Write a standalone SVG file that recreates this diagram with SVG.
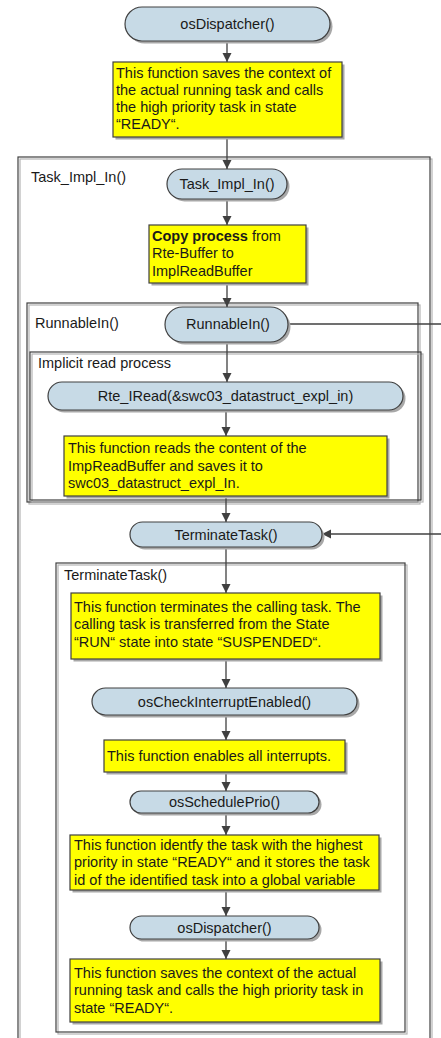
<svg xmlns="http://www.w3.org/2000/svg" width="441" height="1038" viewBox="0 0 441 1038">
  <style>
    text { font-family: "Liberation Sans", Arial, sans-serif; font-size: 14.5px; fill: #1a1a1a; }
    .pill { fill: #c7dae6; stroke: #404040; stroke-width: 1.2; }
    .note { fill: #ffff00; stroke: #404040; stroke-width: 1.2; }
    .shadow { fill: #a8a8a8; stroke: none; }
    .frame { fill: none; stroke: #404040; stroke-width: 1.2; }
    .frame-shadow { fill: none; stroke: #b4b4b4; stroke-width: 1.2; }
    .edge { fill: none; stroke: #404040; stroke-width: 1.3; }
    .c { text-anchor: middle; }
  </style>
  <defs>
    <marker id="arrow" markerWidth="10" markerHeight="10" refX="9" refY="5" orient="auto" markerUnits="userSpaceOnUse">
      <path d="M0,0.5 L9,5 L0,9.5 Z" fill="#404040"/>
    </marker>
  </defs>

  <rect width="441" height="1038" fill="#ffffff"/>

  <!-- containers -->
  <g id="frame-task-impl-in">
    <rect class="frame-shadow" x="20" y="159" width="412" height="900"/>
    <rect class="frame" x="18" y="157" width="412" height="900"/>
    <text x="31" y="182">Task_Impl_In()</text>
  </g>
  <g id="frame-runnable-in">
    <rect class="frame-shadow" x="29" y="305" width="391" height="199"/>
    <rect class="frame" x="27" y="303" width="391" height="199"/>
    <text x="35" y="328">RunnableIn()</text>
  </g>
  <g id="frame-implicit-read">
    <rect class="frame-shadow" x="32" y="354" width="391" height="148"/>
    <rect class="frame" x="30" y="352" width="391" height="148"/>
    <text x="38" y="368">Implicit read process</text>
  </g>
  <g id="frame-terminate-task">
    <rect class="frame-shadow" x="58" y="565" width="349" height="469"/>
    <rect class="frame" x="56" y="563" width="349" height="469"/>
    <text x="64" y="580">TerminateTask()</text>
  </g>

  <!-- connectors -->
  <g id="connectors">
    <line class="edge" x1="227" y1="41" x2="227" y2="62" marker-end="url(#arrow)"/>
    <line class="edge" x1="227" y1="137" x2="227" y2="169" marker-end="url(#arrow)"/>
    <line class="edge" x1="227" y1="199" x2="227" y2="225" marker-end="url(#arrow)"/>
    <line class="edge" x1="227" y1="283" x2="227" y2="307" marker-end="url(#arrow)"/>
    <line class="edge" x1="227" y1="342" x2="227" y2="382" marker-end="url(#arrow)"/>
    <line class="edge" x1="226" y1="410" x2="226" y2="436" marker-end="url(#arrow)"/>
    <line class="edge" x1="226" y1="496" x2="226" y2="522" marker-end="url(#arrow)"/>
    <line class="edge" x1="226" y1="547" x2="226" y2="593" marker-end="url(#arrow)"/>
    <line class="edge" x1="226" y1="659" x2="226" y2="688" marker-end="url(#arrow)"/>
    <line class="edge" x1="226" y1="715" x2="226" y2="740" marker-end="url(#arrow)"/>
    <line class="edge" x1="226" y1="772" x2="226" y2="791" marker-end="url(#arrow)"/>
    <line class="edge" x1="226" y1="813" x2="226" y2="835" marker-end="url(#arrow)"/>
    <line class="edge" x1="226" y1="890" x2="226" y2="916" marker-end="url(#arrow)"/>
    <line class="edge" x1="226" y1="939" x2="226" y2="959" marker-end="url(#arrow)"/>
    <line class="edge" x1="288" y1="324" x2="441" y2="324"/>
    <line class="edge" x1="441" y1="534" x2="322" y2="534" marker-end="url(#arrow)"/>
  </g>

  <!-- nodes -->
  <g id="os-dispatcher-top">
    <rect class="shadow" x="127.5" y="9.5" width="205" height="34" rx="17"/>
    <rect class="pill" x="125" y="7" width="205" height="34" rx="17"/>
    <text class="c" x="227.5" y="29">osDispatcher()</text>
  </g>
  <g id="note-dispatcher-top">
    <rect class="shadow" x="115.5" y="64.5" width="229" height="75"/>
    <rect class="note" x="113" y="62" width="229" height="75"/>
    <text x="116" y="78">This function saves the context of</text>
    <text x="116" y="95">the actual running task and calls</text>
    <text x="116" y="112">the high priority task in state</text>
    <text x="116" y="129">“READY“.</text>
  </g>
  <g id="task-impl-in">
    <rect class="shadow" x="169.5" y="171.5" width="120" height="30" rx="15"/>
    <rect class="pill" x="167" y="169" width="120" height="30" rx="15"/>
    <text class="c" x="227" y="189">Task_Impl_In()</text>
  </g>
  <g id="note-copy-process">
    <rect class="shadow" x="151.5" y="227.5" width="157" height="58"/>
    <rect class="note" x="149" y="225" width="157" height="58"/>
    <text x="152" y="241"><tspan font-weight="bold">Copy process</tspan> from</text>
    <text x="152" y="258">Rte-Buffer to</text>
    <text x="152" y="276">ImplReadBuffer</text>
  </g>
  <g id="runnable-in">
    <rect class="shadow" x="167.5" y="309.5" width="123" height="35" rx="17.5"/>
    <rect class="pill" x="165" y="307" width="123" height="35" rx="17.5"/>
    <text class="c" x="228" y="329">RunnableIn()</text>
  </g>
  <g id="rte-iread">
    <rect class="shadow" x="50.5" y="384.5" width="355" height="28" rx="14"/>
    <rect class="pill" x="48" y="382" width="355" height="28" rx="14"/>
    <text class="c" x="225.5" y="401">Rte_IRead(&amp;swc03_datastruct_expl_in)</text>
  </g>
  <g id="note-iread">
    <rect class="shadow" x="66.5" y="438.5" width="323" height="60"/>
    <rect class="note" x="64" y="436" width="323" height="60"/>
    <text x="68" y="453">This function reads the content of the</text>
    <text x="68" y="471">ImpReadBuffer and saves it to</text>
    <text x="68" y="488">swc03_datastruct_expl_In.</text>
  </g>
  <g id="terminate-task">
    <rect class="shadow" x="132.5" y="524.5" width="192" height="25" rx="12.5"/>
    <rect class="pill" x="130" y="522" width="192" height="25" rx="12.5"/>
    <text class="c" x="226" y="539.5">TerminateTask()</text>
  </g>
  <g id="note-terminate">
    <rect class="shadow" x="73.5" y="595.5" width="309" height="66"/>
    <rect class="note" x="71" y="593" width="309" height="66"/>
    <text x="74" y="612">This function terminates the calling task. The</text>
    <text x="74" y="629">calling task is transferred from the State</text>
    <text x="74" y="647">“RUN“ state into state “SUSPENDED“.</text>
  </g>
  <g id="os-check-interrupt-enabled">
    <rect class="shadow" x="94.5" y="690.5" width="265" height="27" rx="13.5"/>
    <rect class="pill" x="92" y="688" width="265" height="27" rx="13.5"/>
    <text class="c" x="224.5" y="706.5">osCheckInterruptEnabled()</text>
  </g>
  <g id="note-interrupts">
    <rect class="shadow" x="106.5" y="742.5" width="241" height="32"/>
    <rect class="note" x="104" y="740" width="241" height="32"/>
    <text x="107" y="761">This function enables all interrupts.</text>
  </g>
  <g id="os-schedule-prio">
    <rect class="shadow" x="132.5" y="793.5" width="189" height="22" rx="11"/>
    <rect class="pill" x="130" y="791" width="189" height="22" rx="11"/>
    <text class="c" x="224.5" y="807">osSchedulePrio()</text>
  </g>
  <g id="note-schedule">
    <rect class="shadow" x="72.5" y="837.5" width="309" height="55"/>
    <rect class="note" x="70" y="835" width="309" height="55"/>
    <text x="74" y="850">This function identfy the task with the highest</text>
    <text x="74" y="867">priority in state “READY“ and it stores the task</text>
    <text x="74" y="885">id of the identified task into a global variable</text>
  </g>
  <g id="os-dispatcher-bottom">
    <rect class="shadow" x="132.5" y="918.5" width="189" height="23" rx="11.5"/>
    <rect class="pill" x="130" y="916" width="189" height="23" rx="11.5"/>
    <text class="c" x="224.5" y="932.5">osDispatcher()</text>
  </g>
  <g id="note-dispatcher-bottom">
    <rect class="shadow" x="72.5" y="961.5" width="310" height="63"/>
    <rect class="note" x="70" y="959" width="310" height="63"/>
    <text x="74" y="978">This function saves the context of the actual</text>
    <text x="74" y="995">running task and calls the high priority task in</text>
    <text x="74" y="1013">state “READY“.</text>
  </g>
</svg>
